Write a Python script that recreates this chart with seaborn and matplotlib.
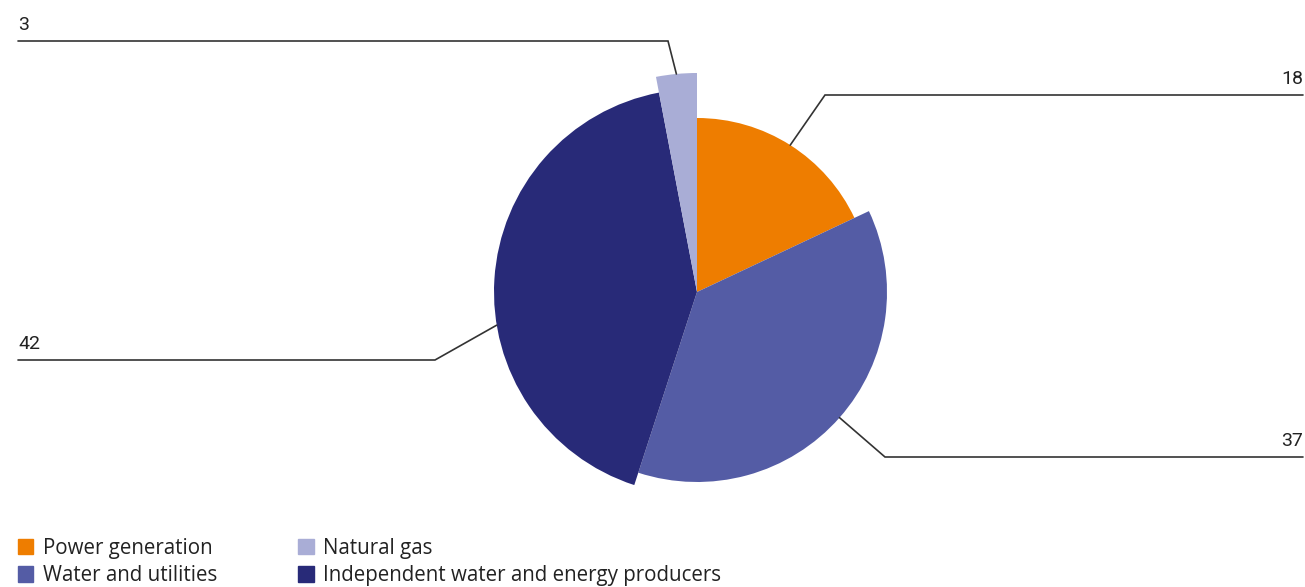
import numpy as np
import matplotlib
matplotlib.use("Agg")
import matplotlib.pyplot as plt
import seaborn as sns

# Share of business by segment (%)
segments = ["Power generation", "Water and utilities",
            "Independent water and energy producers", "Natural gas"]
shares = [18, 37, 42, 3]
colors = ["#EE7D00", "#545CA5", "#282A78", "#A9ADD6"]

sns.set_theme(style="white")
plt.rcParams["font.family"] = ["Open Sans", "DejaVu Sans"]

W, H = 1305, 587
fig = plt.figure(figsize=(W / 100, H / 100), dpi=100)
ax = fig.add_axes([0, 0, 1, 1])


def Y(py):
    """Convert a top-down pixel row to the y-up axis coordinate."""
    return H - py


cx, cy = 697, Y(292)
radii = [174, 190, 203, 219]

wedges, _ = ax.pie(shares, colors=sns.color_palette(colors), startangle=90,
                   counterclock=False, center=(cx, cy), radius=1,
                   wedgeprops=dict(linewidth=0), frame=True)
for w, r in zip(wedges, radii):
    w.set_radius(r)
ax.set_xlim(0, W)
ax.set_ylim(0, H)
ax.set_aspect("equal")
ax.axis("off")

# Leader lines: anchor on the arc, elbow, then a horizontal run to the label
# (anchor angle shift in degrees, elbow x, elbow row, end x, label side)
layout = [
    (0, 825, 95, 1303, "right"),
    (0, 885, 457, 1303, "right"),
    (-13, 435, 360, 18, "left"),
    (0, 668, 41, 18, "left"),
]
cum = np.cumsum([0] + shares)
total = float(sum(shares))
for i, (val, r, (dang, ex, ey, endx, side)) in enumerate(zip(shares, radii, layout)):
    mid = (cum[i] + val / 2) / total * 360 + dang
    ang = np.deg2rad(mid)
    ax_x = cx + r * np.sin(ang)
    ax_y = cy + r * np.cos(ang)
    ax.plot([ax_x, ex, endx], [ax_y, Y(ey), Y(ey)], color="#333333", lw=1.2,
            solid_joinstyle="miter", zorder=5)
    ax.text(endx, Y(ey) + 7, f"{val}", ha=side, va="bottom", fontsize=14,
            family=["Roboto", "DejaVu Sans"], color="#222222")

handles = [plt.Rectangle((0, 0), 1, 1, color=c) for c in colors]
order = [0, 1, 3, 2]
leg = ax.legend([handles[k] for k in order], [segments[k] for k in order],
                ncol=2, loc="upper left", bbox_to_anchor=(18 / W, 1 - 538 / H),
                frameon=False, fontsize=14.8, handlelength=0.75, handleheight=0.75,
                handletextpad=0.45, columnspacing=3.95, labelspacing=0.3,
                borderaxespad=0, borderpad=0)
for t in leg.get_texts():
    t.set_color("#222222")

fig.savefig("out.png", dpi=100)
